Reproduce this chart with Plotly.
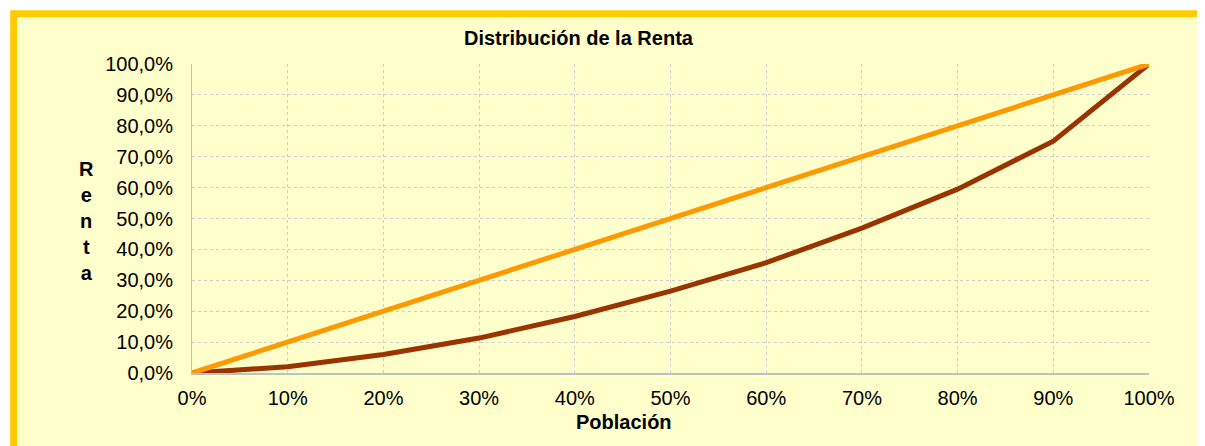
import plotly.graph_objects as go

# Data
poblacion = [0.0, 0.1, 0.2, 0.3, 0.4, 0.5, 0.6, 0.7, 0.8, 0.9, 1.0]
renta_real = [0.0, 0.02, 0.06, 0.113, 0.183, 0.265, 0.357, 0.469, 0.595, 0.75, 1.0]
renta_igualdad = [0.0, 0.1, 0.2, 0.3, 0.4, 0.5, 0.6, 0.7, 0.8, 0.9, 1.0]

title_text = "Distribución de la Renta"
x_title = "Población"
y_title = "R<br>e<br>n<br>t<br>a"

OFF = 8  # default page body margin
W, H = 1205 - OFF, 446 - OFF
L, R, T, B = 192 - OFF, 56, 64 - OFF, 73
pw, ph = W - L - R, H - T - B


def px_x(p):  # screen pixel -> paper x
    return (p - OFF - L) / pw


def px_y(p):  # screen pixel -> paper y
    return (H - B - (p - OFF)) / ph


FONT = "Arial, Liberation Sans, sans-serif"
FS = 20

fig = go.Figure()
fig.add_trace(go.Scatter(x=poblacion, y=renta_real, mode="lines",
                         line=dict(color="#993300", width=5), showlegend=False))
fig.add_trace(go.Scatter(x=poblacion, y=renta_igualdad, mode="lines",
                         line=dict(color="#FF9900", width=5), showlegend=False))

fig.update_layout(
    width=W, height=H,
    margin=dict(l=L, r=R, t=T, b=B, pad=0),
    paper_bgcolor="white",
    plot_bgcolor="rgba(0,0,0,0)",
    separators=",.",
    font=dict(family=FONT, size=FS, color="#000000"),
    shapes=[dict(type="rect", xref="paper", yref="paper", layer="below",
                 x0=px_x(13.7), x1=px_x(1225), y0=px_y(470), y1=px_y(13.7),
                 fillcolor="#FFFFCC", line=dict(color="#FFCC00", width=7))],
    annotations=[
        dict(text="<b>" + title_text + "</b>", xref="paper", yref="paper",
             x=px_x(579), y=px_y(38), xanchor="center", yanchor="middle",
             showarrow=False, font=dict(size=FS, family=FONT)),
        dict(text="<b>" + x_title + "</b>", xref="paper", yref="paper",
             x=px_x(623.5), y=px_y(422), xanchor="center", yanchor="middle",
             showarrow=False, font=dict(size=FS, family=FONT)),
        dict(text="<b>" + y_title + "</b>", xref="paper", yref="paper",
             x=px_x(86), y=px_y(221), xanchor="center", yanchor="middle",
             showarrow=False, font=dict(size=FS, family=FONT)),
    ],
)

fig.update_xaxes(range=[0, 1], tickvals=poblacion, tickformat=".0%",
                 showgrid=True, gridcolor="#CDCDCD", griddash="dot", gridwidth=1,
                 showline=True, linecolor="#C0C0C0", linewidth=2,
                 zeroline=False, ticks="", ticklabelstandoff=6,
                 tickfont=dict(size=FS, family=FONT, color="#000000"))
fig.update_yaxes(range=[0, 1], dtick=0.1, tickformat=".1%",
                 showgrid=True, gridcolor="#CDCDCD", griddash="dot", gridwidth=1,
                 showline=True, linecolor="#C0C0C0", linewidth=1,
                 zeroline=False, ticks="", ticklabelstandoff=14,
                 tickfont=dict(size=FS, family=FONT, color="#000000"))

fig.write_html("out.html")
